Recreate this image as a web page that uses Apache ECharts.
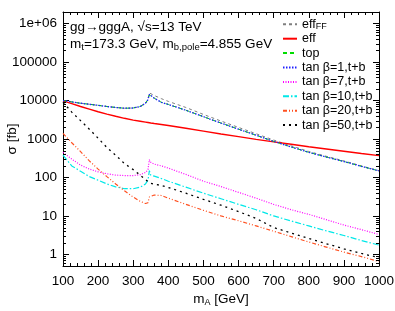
<!DOCTYPE html>
<html><head><meta charset="utf-8">
<script src="https://cdn.jsdelivr.net/npm/echarts@6/dist/echarts.min.js"></script>
<style>html,body{margin:0;padding:0;background:#fff}#c{width:395px;height:311px}</style>
</head><body><div id="c"></div>
<script>
// ---- data ----
const massA = [100,125,150,175,200,225,250,275,300,320,335,342,346,350,360,380,400,450,500,550,600,650,700,750,800,850,900,950,1000];
const effFF = [10000,9200,8500,8000,7500,7000,6600,6300,6400,7000,8500,11000,15800,15000,13500,11200,9500,6600,4350,2930,2000,1370,940,665,475,355,270,200,150];
const eff   = [9800,8300,7000,6000,5100,4450,3900,3450,3100,2900,2750,2680,2650,2600,2520,2380,2250,1900,1600,1350,1150,980,840,730,630,550,480,420,370];
const top_  = [10000,9200,8500,8000,7500,7000,6600,6300,6400,7000,8500,10500,14000,13000,11500,9000,7900,5600,3800,2600,1800,1250,870,620,450,340,260,195,148];
const tb1   = [10000,9200,8500,8000,7500,7000,6600,6300,6400,7000,8500,10500,14500,13200,11500,9000,7900,5600,3800,2600,1800,1250,870,620,450,340,260,195,148];
const tb7   = [450,300,210,165,140,125,115,112,112,118,135,160,290,250,222,200,175,120,80,58,41,29,20,14.5,11,8,5.8,4.4,3.3];
const tb10  = [380,200,145,105,85,68,57,51,51,56,68,85,150,115,108,94,80,56,39,28,20,14.5,10,7.4,5.5,4.1,3.1,2.3,1.75];
const tb20  = [1400,800,470,270,165,105,68,45,31,24,21,22,31,34,35,34,29,20,14,10,7.5,5.5,4.0,2.9,2.1,1.55,1.15,0.88,0.65];
const tb50  = [9000,5000,3000,1800,1050,600,380,230,160,115,88,78,74,71,67,62,55,39,27,19,13,8.6,5.0,3.6,2.6,1.9,1.4,1.06,0.82];
const yTickLabels = {1:'1', 10:'10', 100:'100', 1000:'1000', 10000:'10000', 100000:'100000', 1000000:'1e+06'};
const seriesNames = ['eff{sub|FF}','eff','top','tan β=1,t+b','tan β=7,t+b','tan β=10,t+b','tan β=20,t+b','tan β=50,t+b'];

// minor ticks for the log axis (2..9 x 10^k within the axis range)
const yMin = 0.5, yMax = 2e6;
const minorTickValues = [];
for (let k = -1; k <= 6; k++) for (let j = 2; j <= 9; j++) { const v = j * Math.pow(10, k); if (v > yMin && v < yMax) minorTickValues.push(v); }

const chart = echarts.init(document.getElementById('c'), null, {renderer: 'canvas'});
const FONT = 'Liberation Sans';
const FS = 13.5;
function pairs(arr){ return massA.map((m,i)=>[m, arr[i]]); }
function line(name, data, color, type, width){
  return {name, type:'line', data: pairs(data), symbol:'none', animation:false,
    lineStyle:{color, type, width: width||1}, itemStyle:{color}, z: 3};
}
const series = [
  line(seriesNames[0], effFF, '#7f7f7f', [3,3], 1),
  line(seriesNames[1], eff, '#ff0000', 'solid', 1.4),
  line(seriesNames[2], top_, '#00dd00', [4,3], 1),
  line(seriesNames[3], tb1, '#2020ff', [1.5,1.5], 1.3),
  line(seriesNames[4], tb7, '#ff00ff', [1,1.5], 1.2),
  line(seriesNames[5], tb10, '#00e8e8', [6,2,1.5,2], 1.2),
  line(seriesNames[6], tb20, '#ff5020', [4,2,1,2,1,2], 1.2),
  line(seriesNames[7], tb50, '#000000', [2,4], 1.3),
  {type:'custom', silent:true, animation:false, z: 5, data: minorTickValues.map(v=>[100, v]),
    renderItem: function(params, api){
      const v = api.value(1);
      const pl = api.coord([100, v]); const pr = api.coord([1000, v]);
      const st = {stroke:'#000', lineWidth:1};
      return {type:'group', children:[
        {type:'line', shape:{x1:pl[0], y1:Math.round(pl[1])+0.5, x2:pl[0]+3, y2:Math.round(pl[1])+0.5}, style:st},
        {type:'line', shape:{x1:pr[0]-3, y1:Math.round(pr[1])+0.5, x2:pr[0], y2:Math.round(pr[1])+0.5}, style:st}
      ]};
    }}
];
const yLabelFmt = function(v){
  const l = Math.log10(v), r = Math.round(l);
  if (Math.abs(l - r) > 1e-6) return '';
  return yTickLabels[Math.pow(10, r)] || '';
};
chart.setOption({
  animation:false,
  textStyle:{fontFamily: FONT},
  grid:{left:63, right:16, top:12, bottom:45, containLabel:false, outerBoundsMode:'none'},
  legend:{
    orient:'vertical', left:277, top:12, itemWidth:14, itemHeight:8, itemGap:1,
    itemStyle:{opacity:0},
    data: seriesNames.map(n=>({name:n})),
    textStyle:{fontFamily:FONT, fontSize:12.5, color:'#000', lineHeight:13.4,
      rich:{sub:{fontSize:9, fontFamily:FONT, verticalAlign:'bottom', lineHeight:13.4, padding:[5,0,0,0]}}},
    selectedMode:false
  },
  xAxis:[{type:'value', min:100, max:1000, interval:100, position:'bottom',
    name:'m{sub|A} [GeV]', nameLocation:'middle', nameGap:25, nameMoveOverlap:false,
    nameTextStyle:{fontFamily:FONT, fontSize:FS, color:'#000', rich:{sub:{fontSize:9, fontFamily:FONT, padding:[7,0,0,0]}}},
    axisLine:{lineStyle:{color:'#000'}}, axisTick:{inside:true, length:6, lineStyle:{color:'#000'}},
    minorTick:{show:true, splitNumber:5, length:3, lineStyle:{color:'#000'}},
    axisLabel:{fontFamily:FONT, fontSize:FS, color:'#000', margin:8, formatter:function(v){return String(v);}}, splitLine:{show:false}},
   {type:'value', min:100, max:1000, interval:100, position:'top',
    axisLine:{lineStyle:{color:'#000'}}, axisTick:{inside:true, length:6, lineStyle:{color:'#000'}},
    minorTick:{show:true, splitNumber:5, length:3, lineStyle:{color:'#000'}},
    axisLabel:{show:false}, splitLine:{show:false}}],
  yAxis:[{type:'log', min:yMin, max:yMax, logBase:10, splitNumber:6, position:'left',
    name:'σ [fb]', nameLocation:'middle', nameGap:44, nameRotate:90, nameMoveOverlap:false,
    nameTextStyle:{fontFamily:FONT, fontSize:FS, color:'#000'},
    axisLine:{lineStyle:{color:'#000'}}, axisTick:{inside:true, length:6, lineStyle:{color:'#000'}},
    axisLabel:{fontFamily:FONT, fontSize:FS, color:'#000', margin:6, formatter:yLabelFmt, showMinLabel:true, showMaxLabel:true},
    splitLine:{show:false}},
   {type:'log', min:yMin, max:yMax, logBase:10, splitNumber:6, position:'right',
    axisLine:{lineStyle:{color:'#000'}}, axisTick:{inside:true, length:6, lineStyle:{color:'#000'}},
    axisLabel:{show:false}, splitLine:{show:false}}],
  graphic:[
    {type:'text', left:70, top:20, style:{text:'gg→gggA, √s=13 TeV', font:'13.5px "Liberation Sans"', fill:'#000'}},
    {type:'text', left:70, top:37, style:{text:'m{sub|t}=173.3 GeV, m{sub|b,pole}=4.855 GeV', font:'13.5px "Liberation Sans"', fill:'#000',
      rich:{sub:{fontSize:9.5, fontFamily:FONT, padding:[6,0,0,0], fill:'#000'}}}}
  ],
  series
});
</script></body></html>
